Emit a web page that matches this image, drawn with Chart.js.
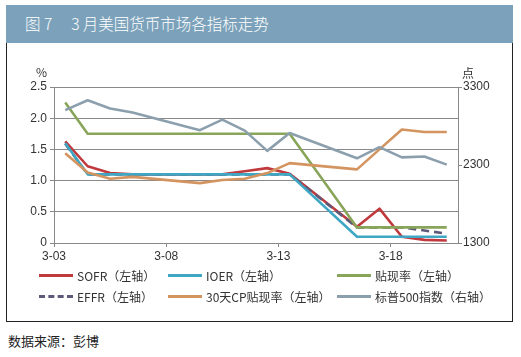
<!DOCTYPE html>
<html>
<head>
<meta charset="utf-8">
<script src="https://cdn.jsdelivr.net/npm/chart.js@4.4.1/dist/chart.umd.min.js"></script>
<style>
  html, body { margin:0; padding:0; background:#fff; }
  body { width:521px; height:357px; position:relative; overflow:hidden;
         font-family: "Noto Sans CJK SC", "Liberation Sans", sans-serif; }
  #titlebar { position:absolute; left:6px; top:5px; width:507px; height:38px; background:#7ba2ba; }
  #title { position:absolute; left:19px; top:8px; color:#fff; font-size:15.5px; line-height:20px; white-space:pre; font-weight:300; }
  #frame { position:absolute; left:6px; top:43px; width:505px; height:278px; border:1.5px solid #222; border-top:none; }
  #wrap { position:absolute; left:0; top:44px; width:521px; height:230px; }
  .unit { position:absolute; font-size:12px; color:#333; }
  #legend { position:absolute; left:0; top:268px; width:521px; height:42px; }
  .li { position:absolute; height:16px; font-size:12px; color:#333; white-space:nowrap; line-height:16px; }
  .li .sw { position:absolute; left:0; top:6px; width:34px; height:0; border-top:3px solid; }
  .li span { position:absolute; left:38px; top:0; }
  #source { position:absolute; left:8px; top:331px; font-size:13px; color:#222; }
</style>
</head>
<body>
<div id="titlebar"><div id="title">图 7　 3 月美国货币市场各指标走势</div></div>
<div id="frame"></div>
<div id="wrap"><canvas id="c" width="521" height="230"></canvas></div>
<div class="unit" style="left:36px;top:63px;">%</div>
<div class="unit" style="left:462px;top:64px;">点</div>
<div id="legend"></div>
<div id="source">数据来源：彭博</div>
<script>
// Calendar days (weekends have no data -> null)
const dates = ['3-03','3-04','3-05','3-06','3-07','3-08','3-09','3-10','3-11','3-12','3-13','3-14','3-15','3-16','3-17','3-18','3-19','3-20'];
const tickLabels = ['3-03','3-08','3-13','3-18'];
const leftTicks = [0, 0.5, 1.0, 1.5, 2.0, 2.5];
const rightTicks = [1300, 2300, 3300];

const sofr     = [1.63, 1.23, 1.12, 1.10, null, null, 1.10, 1.10, 1.15, 1.20, 1.11, null, null, 0.26, 0.55, 0.10, 0.05, 0.04];
const ioer     = [1.60, 1.10, 1.10, 1.10, null, null, 1.10, 1.10, 1.10, 1.10, 1.10, null, null, 0.10, 0.10, 0.10, 0.10, 0.10];
const discount = [2.25, 1.75, 1.75, 1.75, null, null, 1.75, 1.75, 1.75, 1.75, 1.75, null, null, 0.25, 0.25, 0.25, 0.25, 0.25];
const effr     = [1.59, 1.10, 1.10, 1.10, null, null, 1.10, 1.10, 1.10, 1.10, 1.10, null, null, 0.25, 0.25, 0.25, 0.20, 0.15];
const cp30     = [1.44, 1.13, 1.03, 1.06, null, null, 0.96, 1.01, 1.03, 1.12, 1.28, null, null, 1.18, 1.50, 1.82, 1.78, 1.78];
const spx      = [3003, 3130, 3024, 2972, null, null, 2747, 2882, 2741, 2481, 2711, null, null, 2386, 2529, 2398, 2409, 2305];

const seriesNames = ['SOFR（左轴）','IOER（左轴）','贴现率（左轴）','EFFR（左轴）','30天CP贴现率（左轴）','标普500指数（右轴）'];
const colors = ['#c0393d','#3fa6c4','#88a55a','#5c5a78','#d39460','#8c9fad'];

const toXY = arr => arr.map((v, i) => ({x: i, y: v}));
const tickPos = tickLabels.map(l => dates.indexOf(l) - 0.5);

const mk = (i, arr, axis, dash) => ({
  label: seriesNames[i], data: toXY(arr), yAxisID: axis,
  borderColor: colors[i], backgroundColor: colors[i],
  borderWidth: 2.6, pointRadius: 0, tension: 0, spanGaps: true,
  borderDash: dash || [], borderCapStyle: 'butt', borderJoinStyle: 'round'
});

const datasets = [
  mk(5, spx, 'y2'),
  mk(4, cp30, 'y'),
  mk(2, discount, 'y'),
  mk(1, ioer, 'y'),
  mk(3, effr, 'y', [8, 5]),
  mk(0, sofr, 'y')
];

const font = {family: '"Liberation Sans", Arial, sans-serif', size: 12};

new Chart(document.getElementById('c'), {
  type: 'line',
  data: { datasets },
  options: {
    responsive: false, animation: false, devicePixelRatio: 1,
    layout: { padding: { top: 43, bottom: 6, left: 0, right: 0 } },
    plugins: { legend: { display: false }, tooltip: { enabled: false } },
    scales: {
      x: {
        type: 'linear', min: -0.5, max: dates.length - 0.5,
        afterBuildTicks: s => { s.ticks = tickPos.map(v => ({value: v})); },
        afterFit: s => { s.height = 25; },
        ticks: { color: '#333', font, padding: 2, autoSkip: false, maxRotation: 0,
                 callback: v => tickLabels[tickPos.indexOf(v)] },
        grid: { drawOnChartArea: false, drawTicks: true, tickLength: 4, color: '#888' },
        border: { color: '#888', width: 1 }
      },
      y: {
        position: 'left', min: 0, max: 2.5,
        afterBuildTicks: s => { s.ticks = leftTicks.map(v => ({value: v})); },
        afterFit: s => { s.width = 54; },
        ticks: { color: '#333', font, padding: 3, callback: v => v === 0 ? '0' : v.toFixed(1) },
        grid: { color: '#8a8a8a', lineWidth: 1, tickLength: 4 },
        border: { color: '#888', width: 1 }
      },
      y2: {
        position: 'right', min: 1300, max: 3300,
        afterBuildTicks: s => { s.ticks = rightTicks.map(v => ({value: v})); },
        afterFit: s => { s.width = 63; },
        ticks: { color: '#333', font, padding: 1, callback: v => String(v) },
        grid: { drawOnChartArea: false, drawTicks: true, tickLength: 4, color: '#888' },
        border: { color: '#888', width: 1 }
      }
    }
  }
});

// HTML legend built from series names/colours
const legendPos = [[39,0],[168,0],[337,0],[39,21],[168,21],[337,21]];
const legendOrder = [0,1,2,3,4,5];
const lg = document.getElementById('legend');
legendOrder.forEach((si, k) => {
  const d = document.createElement('div');
  d.className = 'li';
  d.style.left = legendPos[k][0] + 'px';
  d.style.top = legendPos[k][1] + 'px';
  const sw = document.createElement('div');
  sw.className = 'sw';
  sw.style.borderTopColor = colors[si];
  if (si === 3) sw.style.borderTopStyle = 'dashed';
  const sp = document.createElement('span');
  sp.textContent = seriesNames[si];
  d.appendChild(sw); d.appendChild(sp);
  lg.appendChild(d);
});
</script>
</body>
</html>
